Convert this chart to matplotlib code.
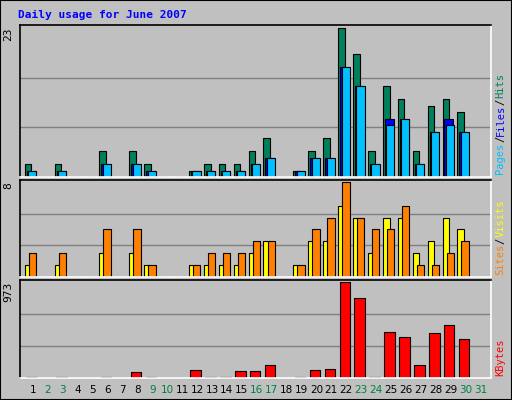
import numpy as np
import matplotlib
matplotlib.use('Agg')
import matplotlib.pyplot as plt
from matplotlib.patches import Rectangle

days = np.arange(1, 32)
hits = [2,0,2,0,0,4,0,4,2,0,0,1,2,2,2,4,6,0,1,4,6,23,19,4,14,12,4,11,12,10,0]
files = [1,0,1,0,0,2,0,2,1,0,0,1,1,1,1,2,3,0,1,3,3,17,14,2,9,9,2,7,9,7,0]
pages = [1,0,1,0,0,2,0,2,1,0,0,1,1,1,1,2,3,0,1,3,3,17,14,2,8,9,2,7,8,7,0]
visits = [1,0,1,0,0,2,0,2,1,0,0,1,1,1,1,2,3,0,1,3,3,6,5,2,5,5,2,3,5,4,0]
sites = [2,0,2,0,0,4,0,4,1,0,0,1,2,2,2,3,3,0,1,4,5,8,5,4,4,6,1,1,2,3,0]
kbytes = [6,0,6,0,0,6,0,57,6,0,0,82,6,6,71,71,131,0,6,82,92,973,813,6,465,419,131,451,536,391,0]
weekend = [2,3,9,10,16,17,23,24,30,31]

W, H = 512, 400
fig = plt.figure(figsize=(W/100, H/100), dpi=100)
fig.patch.set_facecolor('#C0C0C0')
fig.patches.append(Rectangle((0, 0), 1, 1, transform=fig.transFigure,
                             fill=False, edgecolor='black', lw=1.5))

def px_axes(x0, y0, x1, y1):
    return fig.add_axes([x0/W, 1 - y1/H, (x1-x0)/W, (y1-y0)/H])

def setup(ax, top):
    ax.set_facecolor('#C0C0C0')
    ax.set_xlim(0.13, 31.7)
    ax.set_ylim(0, top * 1.02)
    for f in (1/3, 2/3):
        ax.axhline(top * f, color='#808080', lw=1, zorder=0)
    ax.set_xticks([]); ax.set_yticks([])
    for s in ax.spines.values():
        s.set_color('white'); s.set_linewidth(1.2)
    ax.spines['left'].set_color('black'); ax.spines['top'].set_color('black')
    ax.text(-0.025, 1 - 0.02/1.02, str(top), transform=ax.transAxes, rotation=90,
            ha='center', va='top', fontsize=8, family='DejaVu Sans Mono')

bar_kw = dict(edgecolor='black', linewidth=0.8, align='edge')

def right_label(ax, parts, height_px):
    y = 0.02
    for txt, col in parts:
        ax.text(1.02, y, txt, transform=ax.transAxes, rotation=90, color=col,
                ha='center', va='bottom', fontsize=7.5, family='DejaVu Sans Mono')
        y += len(txt) * 6.3 / height_px

# top panel
ax1 = px_axes(20, 25, 491, 177)
setup(ax1, 23)
ax1.bar(days - 0.55, hits, width=0.45, color='#00805C', **bar_kw)
ax1.bar(days - 0.42, files, width=0.6, color='#0000FF', **bar_kw)
ax1.bar(days - 0.32, pages, width=0.55, color='#00C0FF', **bar_kw)
right_label(ax1, [('Pages', '#00C0FF'), ('/', '#000000'), ('Files', '#0000FF'),
                  ('/', '#000000'), ('Hits', '#00805C')], 152)

# middle panel
ax2 = px_axes(20, 180, 491, 277)
setup(ax2, 8)
ax2.bar(days - 0.55, visits, width=0.45, color='#FFFF00', **bar_kw)
ax2.bar(days - 0.28, sites, width=0.5, color='#FF8000', **bar_kw)
right_label(ax2, [('Sites', '#FF8000'), ('/', '#000000'), ('Visits', '#FFFF00')], 97)

# bottom panel
ax3 = px_axes(20, 280, 491, 378)
setup(ax3, 973)
ax3.bar(days - 0.45, kbytes, width=0.7, color='#FF0000', **bar_kw)
right_label(ax3, [('KBytes', '#FF0000')], 98)

for d in days:
    ax3.text(d, -0.12, str(d), transform=ax3.get_xaxis_transform(), ha='center', va='center',
             fontsize=7.5, color='#008040' if d in weekend else 'black')

fig.text(18/W, 1 - 15/H, 'Daily usage for June 2007', color='#0000FF', fontsize=8,
         fontweight='bold', family='DejaVu Sans Mono', va='center')

fig.savefig('out.png', dpi=100, facecolor=fig.get_facecolor())
